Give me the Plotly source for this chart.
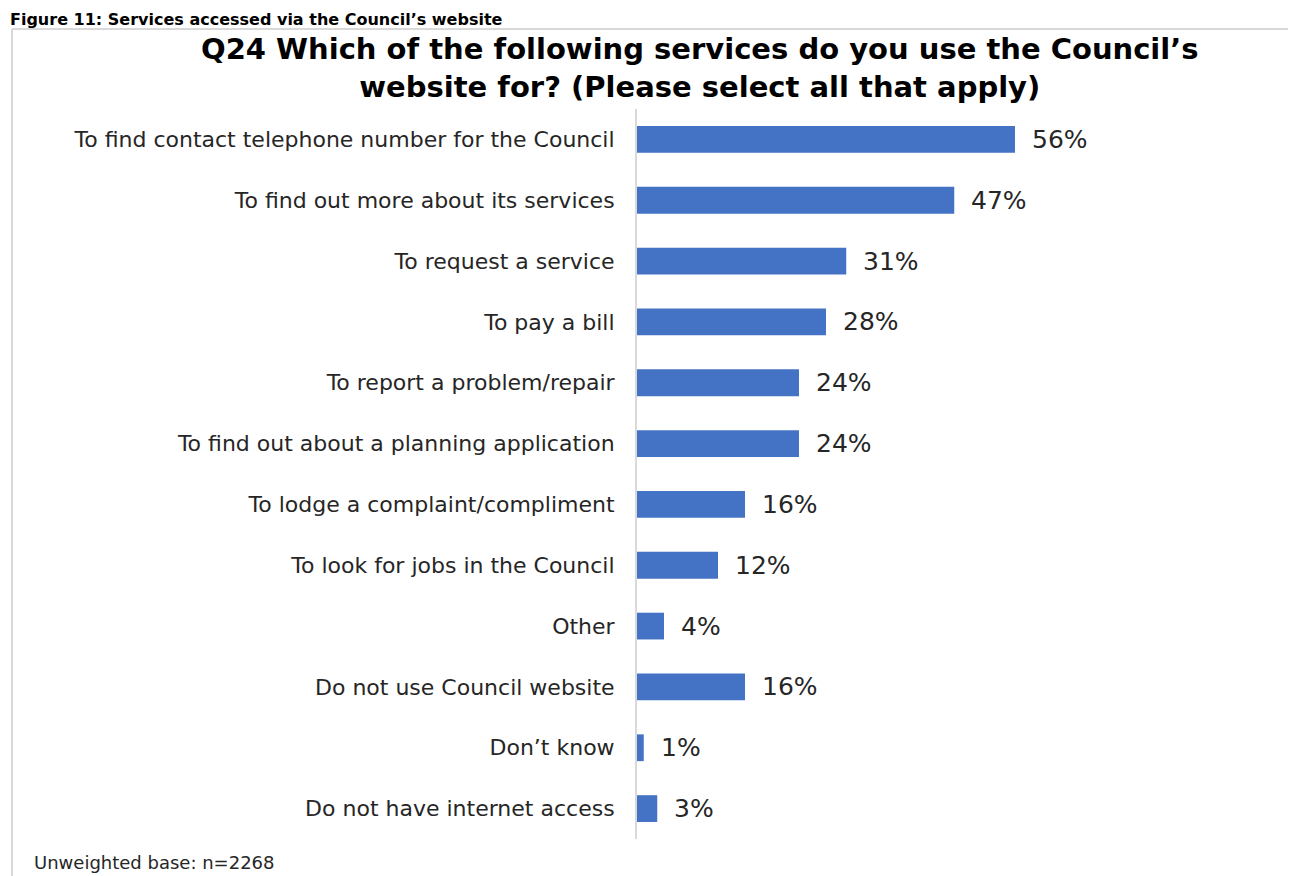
import plotly.graph_objects as go

categories = [
    "To find contact telephone number for the Council",
    "To find out more about its services",
    "To request a service",
    "To pay a bill",
    "To report a problem/repair",
    "To find out about a planning application",
    "To lodge a complaint/compliment",
    "To look for jobs in the Council",
    "Other",
    "Do not use Council website",
    "Don\u2019t know",
    "Do not have internet access",
]
values = [56, 47, 31, 28, 24, 24, 16, 12, 4, 16, 1, 3]
value_labels = [f"{v}%" for v in values]

# page has an 8px body margin; figure coordinates are page coordinates minus 8
OFF = 8
W, H = 1288, 868
ML, MR, MT, MB = 629, 11, 101, 37
PW, PH = W - ML - MR, H - MT - MB

def px_x(p):
    return (p - OFF - ML) / PW

def px_y(p):
    return (H - MB - (p - OFF)) / PH

FONT = "DejaVu Sans"
TXT = "#262626"

fig = go.Figure()
fig.add_trace(go.Bar(
    x=values, y=categories, orientation="h",
    marker=dict(color="#4472C4", line=dict(width=0)),
    hoverinfo="skip",
))

annotations = []
for c, v, t in zip(categories, values, value_labels):
    annotations.append(dict(
        x=v, y=c, xref="x", yref="y", text=t, showarrow=False,
        xanchor="left", yanchor="middle", xshift=15,
        font=dict(family=FONT, size=25, color=TXT),
    ))

annotations.append(dict(
    x=px_x(700), y=px_y(68), xref="paper", yref="paper",
    text="<b>Q24 Which of the following services do you use the Council\u2019s<br>website for? (Please select all that apply)</b>",
    showarrow=False, xanchor="center", yanchor="middle", align="center",
    font=dict(family=FONT, size=29, color="#000000"),
))
annotations.append(dict(
    x=px_x(8), y=px_y(8), xref="paper", yref="paper",
    text="<b>Figure 11: Services accessed via the Council\u2019s website</b>",
    showarrow=False, xanchor="left", yanchor="top",
    font=dict(family=FONT, size=16, color="#000000"),
))
annotations.append(dict(
    x=px_x(32), y=px_y(862), xref="paper", yref="paper",
    text="Unweighted base: n=2268",
    showarrow=False, xanchor="left", yanchor="middle",
    font=dict(family=FONT, size=18, color=TXT),
))

BORDER_Y = 29
shapes = [
    dict(type="line", xref="paper", yref="paper",
         x0=px_x(12), x1=px_x(W + 20), y0=px_y(BORDER_Y), y1=px_y(BORDER_Y),
         line=dict(color="#d9d9d9", width=2)),
    dict(type="line", xref="paper", yref="paper",
         x0=px_x(12), x1=px_x(12), y0=px_y(BORDER_Y), y1=px_y(H + 20),
         line=dict(color="#d9d9d9", width=2)),
]

fig.update_layout(
    width=W, height=H,
    margin=dict(l=ML, r=MR, t=MT, b=MB, autoexpand=False),
    paper_bgcolor="white", plot_bgcolor="white",
    showlegend=False,
    bargap=0.56,
    xaxis=dict(range=[0, 96], visible=False, fixedrange=True),
    yaxis=dict(
        autorange="reversed", showline=True, linecolor="#d9d9d9", linewidth=2,
        ticks="", showgrid=False, ticklabelstandoff=16,
        tickfont=dict(family=FONT, size=22, color=TXT), fixedrange=True,
    ),
    annotations=annotations,
    shapes=shapes,
)

fig.write_html("out.html")
